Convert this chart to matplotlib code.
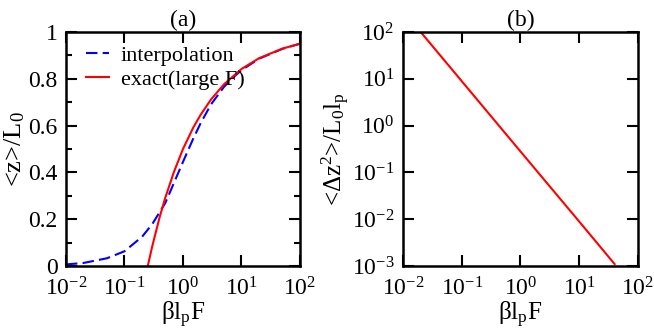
import matplotlib
matplotlib.use("Agg")
import matplotlib.pyplot as plt
from matplotlib.ticker import FixedLocator, FuncFormatter, LogLocator, MultipleLocator
import numpy as np

plt.rcParams["font.family"] = "Liberation Serif"
plt.rcParams["mathtext.fontset"] = "custom"
plt.rcParams["mathtext.rm"] = "Liberation Serif"
plt.rcParams["mathtext.it"] = "Liberation Serif"
plt.rcParams["mathtext.default"] = "regular"

# panel (a): values
interp_x = [0.01, 0.02, 0.05, 0.1, 0.2, 0.3, 0.5, 0.7, 1.0, 1.5, 2.0, 3.0,
            5.0, 7.0, 10.0, 20.0, 50.0, 100.0]
interp_y = [0.0067, 0.013, 0.033, 0.063, 0.125, 0.18, 0.27, 0.355, 0.445,
            0.545, 0.61, 0.69, 0.765, 0.803, 0.837, 0.886, 0.928, 0.95]

exact_x = [0.25, 0.3, 0.4, 0.5, 0.7, 1.0, 1.5, 2.0, 3.0, 5.0, 10.0, 20.0,
           50.0, 100.0]
exact_y = [0.0, 0.087, 0.21, 0.293, 0.402, 0.5, 0.592, 0.646, 0.711, 0.776,
           0.842, 0.888, 0.929, 0.95]

# panel (b)
fluct_x = [0.02, 0.1, 1.0, 10.0, 40.0]
fluct_y = [100.0, 8.9, 0.28, 0.0089, 0.0011]

FS = 17


def log_fmt(v, pos):
    return r"10$^{%d}$" % int(round(np.log10(v)))


def style(ax):
    ax.tick_params(which="both", direction="in", top=True, right=True,
                   labelsize=FS, width=1.5)
    ax.tick_params(which="major", length=8)
    ax.tick_params(which="minor", length=4)
    ax.tick_params(axis="x", which="major", pad=8)
    ax.tick_params(axis="y", which="major", pad=6)
    for s in ax.spines.values():
        s.set_linewidth(1.8)


fig = plt.figure(figsize=(6.54, 3.33), dpi=100)
ax1 = fig.add_axes([0.1009, 0.2012, 0.3578, 0.7027])
ax2 = fig.add_axes([0.6162, 0.2012, 0.3593, 0.7027])

ax1.plot(interp_x, interp_y, color="#0000ff", lw=1.5, dashes=(5.5, 2.5),
         label="interpolation")
ax1.plot(exact_x, exact_y, color="#ff0000", lw=1.5, label="exact(large F)")
ax1.set_xscale("log")
ax1.set_xlim(1e-2, 1e2)
ax1.set_ylim(0, 1)
ax1.xaxis.set_major_locator(FixedLocator([1e-2, 1e-1, 1, 1e1, 1e2]))
ax1.xaxis.set_minor_locator(LogLocator(base=10, subs=np.arange(2, 10)))
ax1.xaxis.set_major_formatter(FuncFormatter(log_fmt))
ax1.yaxis.set_major_locator(MultipleLocator(0.2))
ax1.yaxis.set_minor_locator(MultipleLocator(0.1))
ax1.yaxis.set_major_formatter(FuncFormatter(lambda v, p: "%g" % round(v, 1)))
style(ax1)
ax1.set_xlabel(r"$\beta$l$_p$F", fontsize=FS + 1, labelpad=0)
ax1.set_ylabel(r"<z>/L$_0$", fontsize=FS + 2, labelpad=1)
ax1.set_title("(a)", fontsize=FS, pad=4)
ax1.legend(loc="upper left", bbox_to_anchor=(0.03, 1.0), frameon=False,
           fontsize=FS - 1, handlelength=1.0, handletextpad=0.55,
           borderaxespad=0.2, labelspacing=0.15)

ax2.plot(fluct_x, fluct_y, color="#ff0000", lw=1.5)
ax2.set_xscale("log")
ax2.set_yscale("log")
ax2.set_xlim(1e-2, 1e2)
ax2.set_ylim(1e-3, 1e2)
ax2.xaxis.set_major_locator(FixedLocator([1e-2, 1e-1, 1, 1e1, 1e2]))
ax2.yaxis.set_major_locator(FixedLocator([1e-3, 1e-2, 1e-1, 1, 1e1, 1e2]))
for a in (ax2.xaxis, ax2.yaxis):
    a.set_minor_locator(LogLocator(base=10, subs=np.arange(2, 10)))
    a.set_major_formatter(FuncFormatter(log_fmt))
style(ax2)
ax2.set_xlabel(r"$\beta$l$_p$F", fontsize=FS + 1, labelpad=0)
ax2.set_ylabel(r"<$\Delta$z$^2$>/L$_0$l$_p$", fontsize=FS + 1, labelpad=0)
ax2.set_title("(b)", fontsize=FS, pad=4)

fig.savefig("out.png", dpi=100)
